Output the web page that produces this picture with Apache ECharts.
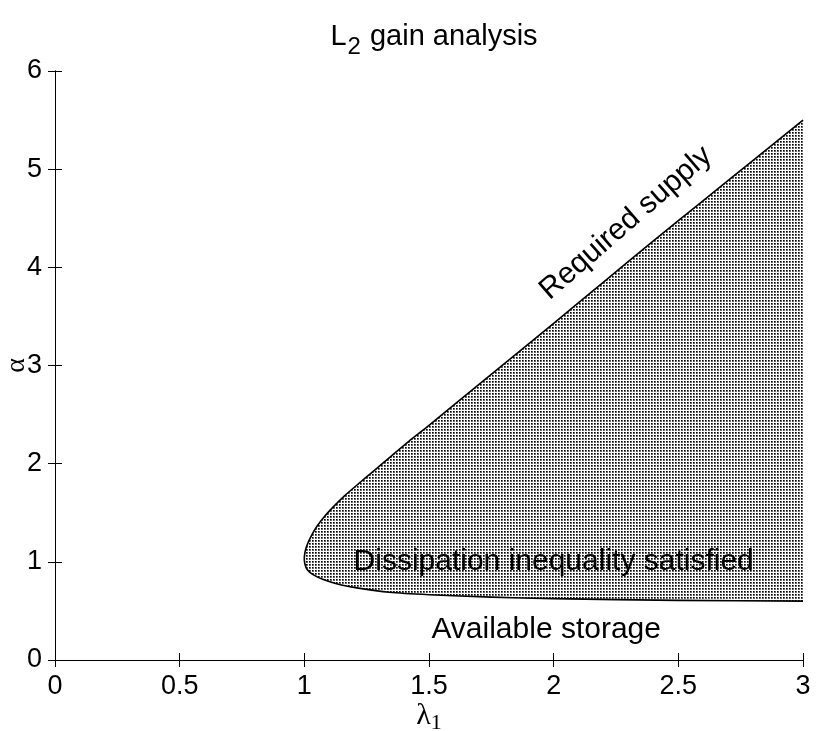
<!DOCTYPE html>
<html>
<head>
<meta charset="utf-8">
<script src="https://cdn.jsdelivr.net/npm/echarts@6/dist/echarts.min.js"></script>
<style>
  html, body { margin: 0; padding: 0; background: #fff; }
  #chart { width: 817px; height: 731px; }
</style>
</head>
<body>
<div id="chart"></div>
<script>
// boundary of the shaded region, [lambda1, alpha], from top right round the nose to bottom right
const boundary = [
  [3.0, 5.5], [2.8, 5.09], [2.6, 4.68], [2.4, 4.27], [2.2, 3.85], [2.0, 3.43],
  [1.87, 3.16], [1.73, 2.87], [1.6, 2.6], [1.5, 2.39], [1.42, 2.23],
  [1.35, 2.08], [1.28, 1.93], [1.21, 1.78], [1.16, 1.67], [1.12, 1.57],
  [1.08, 1.46], [1.05, 1.36], [1.025, 1.25], [1.008, 1.15], [1.0, 1.05],
  [1.002, 0.98], [1.012, 0.92], [1.035, 0.87], [1.076, 0.82], [1.14, 0.77],
  [1.21, 0.735], [1.34, 0.69], [1.5, 0.665], [1.75, 0.64], [2.0, 0.625],
  [2.5, 0.607], [3.0, 0.6]
];
const xTicks = [0, 0.5, 1, 1.5, 2, 2.5, 3];
const yTicks = [0, 1, 2, 3, 4, 5, 6];
// text notes placed in data space: [lambda1, alpha, text, rotate]
const notes = [
  [2.29, 4.45, 'Required supply', 41],
  [2.0, 1.0, 'Dissipation inequality satisfied', 0],
  [1.97, 0.31, 'Available storage', 0]
];

// stipple fill like the printed figure
function makeDots() {
  const c = document.createElement('canvas');
  c.width = 3; c.height = 3;
  const g = c.getContext('2d');
  g.fillStyle = '#fff';
  g.fillRect(0, 0, 3, 3);
  g.fillStyle = '#000';
  g.fillRect(0, 0, 1, 1);
  g.fillStyle = '#555';
  g.fillRect(1, 0, 1, 1);
  g.fillRect(0, 1, 1, 1);
  g.fillStyle = '#777';
  g.fillRect(1, 1, 1, 1);
  return c;
}

const chart = echarts.init(document.getElementById('chart'));
const sans = 'Liberation Sans';
const serif = 'Liberation Serif';
const valueAxisBase = {
  type: 'value',
  axisLine: { show: true, lineStyle: { color: '#000', width: 1 } },
  axisTick: { show: true, inside: true, length: 7, lineStyle: { color: '#000' } },
  splitLine: { show: false }
};

chart.setOption({
  animation: false,
  backgroundColor: '#fff',
  title: {
    text: 'L{sub|2} gain analysis',
    left: 429,
    textAlign: 'center',
    top: 10,
    textStyle: {
      fontFamily: sans, fontWeight: 'normal', fontSize: 29, color: '#000',
      rich: { sub: { fontFamily: sans, fontSize: 24, color: '#000', padding: [20, 1, 0, 1] } }
    }
  },
  grid: { left: 55, right: 14, top: 71, bottom: 71, outerBoundsMode: 'none', containLabel: false },
  xAxis: [
    Object.assign({}, valueAxisBase, {
      min: 0, max: 3, interval: 0.5,
      name: 'λ{s|1}', nameLocation: 'middle', nameGap: 38, nameMoveOverlap: false,
      nameTextStyle: {
        fontFamily: serif, fontSize: 30, color: '#000',
        rich: { s: { fontFamily: serif, fontSize: 22, color: '#000', padding: [14, 0, 0, 0] } }
      },
      axisLabel: {
        fontFamily: sans, fontSize: 27, color: '#000', margin: 13,
        formatter: v => xTicks.includes(v) ? String(v) : ''
      }
    }),
    Object.assign({}, valueAxisBase, {
      min: 0, max: 3, interval: 0.5, position: 'top',
      axisLabel: { show: false }
    })
  ],
  yAxis: [
    Object.assign({}, valueAxisBase, {
      min: 0, max: 6, interval: 1,
      name: 'α', nameLocation: 'middle', nameGap: 38, nameRotate: 90, nameMoveOverlap: false,
      nameTextStyle: { fontFamily: serif, fontSize: 28, color: '#000', verticalAlign: 'middle', align: 'center' },
      axisLabel: {
        fontFamily: sans, fontSize: 27, color: '#000', margin: 13,
        formatter: v => yTicks.includes(v) ? String(v) : ''
      }
    }),
    Object.assign({}, valueAxisBase, {
      min: 0, max: 6, interval: 1, position: 'right',
      axisLabel: { show: false }
    })
  ],
  series: [
    {
      type: 'custom',
      coordinateSystem: 'cartesian2d',
      data: [0],
      silent: true,
      renderItem: function (params, api) {
        const pts = boundary.map(p => api.coord(p));
        return {
          type: 'group',
          children: [
            {
              type: 'polygon',
              shape: { points: pts },
              style: { fill: { image: makeDots(), repeat: 'repeat' }, stroke: null }
            },
            {
              type: 'polyline',
              shape: { points: pts, smooth: 0.2 },
              style: { fill: null, stroke: '#000', lineWidth: 1.6 }
            }
          ]
        };
      }
    },
    {
      type: 'scatter',
      symbolSize: 0,
      silent: true,
      itemStyle: { opacity: 1 },
      data: notes.map(n => ({
        value: [n[0], n[1]],
        label: {
          show: true, position: 'inside', formatter: n[2], rotate: n[3],
          fontFamily: sans, fontSize: 30, color: '#000', opacity: 1,
          textBorderWidth: 0, textShadowBlur: 0
        }
      }))
    }
  ]
});
</script>
</body>
</html>
